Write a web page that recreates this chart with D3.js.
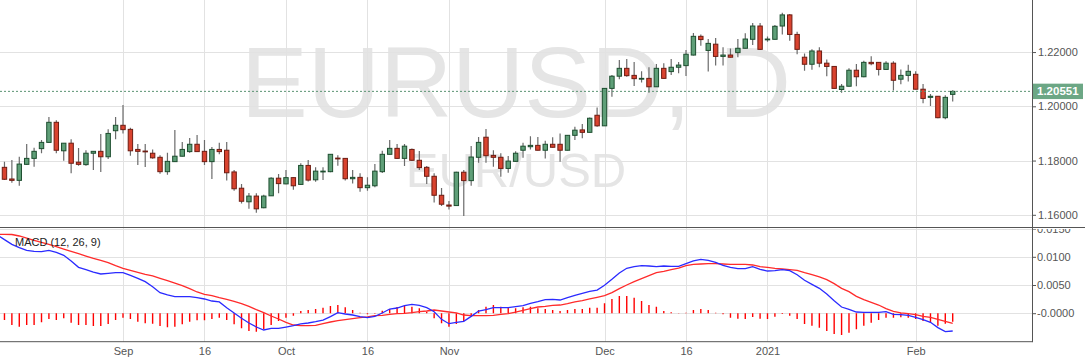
<!DOCTYPE html>
<html>
<head>
<meta charset="utf-8">
<script src="https://cdn.jsdelivr.net/npm/d3@7"></script>
<style>
  body { margin: 0; background: #fff; }
  svg { display: block; font-family: Arial, "Liberation Sans", sans-serif; }
</style>
</head>
<body>
<svg id="chart" width="1085" height="363"></svg>
<script>
// Daily EUR/USD bars, 7 Aug 2020 .. 8 Feb 2021 (first bar sits just off the left edge)
const open = [1.1875,1.1775,1.1732,1.1727,1.1786,1.1808,1.1844,1.1867,1.1941,1.1836,1.1864,1.1794,1.1785,1.1827,1.1834,1.1814,1.1910,1.1930,1.1915,1.1841,1.1835,
  1.1827,1.1812,1.1759,1.1796,1.1816,1.1833,1.1860,1.1834,1.1796,1.1841,1.1838,1.1758,1.1698,1.1648,1.1669,1.1626,1.1670,1.1735,1.1714,1.1737,
  1.1712,1.1782,1.1729,1.1759,1.1759,1.1809,1.1808,1.1733,1.1738,1.1700,1.1707,1.1759,1.1823,1.1845,1.1808,1.1841,1.1801,1.1775,1.1742,1.1672,
  1.1636,1.1634,1.1757,1.1726,1.1812,1.1886,1.1819,1.1812,1.1771,1.1797,1.1838,1.1851,1.1856,1.1838,1.1860,1.1860,1.1838,1.1893,1.1913,1.1904,
  1.1967,1.1928,1.2066,1.2111,1.2140,1.2114,1.2101,1.2103,1.2072,1.2140,1.2128,1.2144,1.2150,1.2189,1.2258,1.2206,1.2229,1.2184,1.2189,1.2198,
  1.2214,1.2247,1.2296,1.2246,1.2247,1.2296,1.2337,1.2265,1.2181,1.2155,1.2204,1.2159,1.2147,1.2062,1.2074,1.2133,1.2109,1.2162,1.2162,1.2136,
  1.2159,1.2100,1.2114,1.2118,1.2063,1.2033,1.2037,1.1958,1.2044];
const high = [1.1886,1.1796,1.1802,1.1814,1.1861,1.1847,1.1876,1.1961,1.1949,1.1865,1.1879,1.1846,1.1838,1.1835,1.1898,1.1915,1.1961,1.2005,1.1921,1.1861,1.1861,
  1.1841,1.1820,1.1829,1.1913,1.1868,1.1883,1.1894,1.1876,1.1850,1.1866,1.1868,1.1765,1.1714,1.1680,1.1679,1.1674,1.1738,1.1750,1.1765,1.1738,
  1.1790,1.1802,1.1775,1.1775,1.1824,1.1820,1.1809,1.1765,1.1753,1.1738,1.1787,1.1836,1.1876,1.1861,1.1861,1.1844,1.1835,1.1780,1.1753,1.1699,
  1.1651,1.1759,1.1765,1.1854,1.1887,1.1916,1.1838,1.1827,1.1817,1.1834,1.1866,1.1890,1.1887,1.1873,1.1886,1.1900,1.1894,1.1925,1.1935,1.1959,
  1.1996,1.2067,1.2115,1.2171,1.2174,1.2163,1.2129,1.2144,1.2156,1.2159,1.2174,1.2163,1.2208,1.2270,1.2265,1.2248,1.2252,1.2218,1.2213,1.2248,
  1.2269,1.2307,1.2307,1.2257,1.2300,1.2345,1.2340,1.2275,1.2195,1.2210,1.2218,1.2173,1.2149,1.2082,1.2140,1.2156,1.2168,1.2185,1.2163,1.2166,
  1.2166,1.2136,1.2153,1.2129,1.2082,1.2045,1.2038,1.2041,1.2059];
const low = [1.1756,1.1728,1.1718,1.1707,1.1784,1.1777,1.1827,1.1866,1.1827,1.1799,1.1753,1.1781,1.1781,1.1765,1.1758,1.1806,1.1879,1.1900,1.1818,1.1784,1.1776,
  1.1807,1.1751,1.1748,1.1795,1.1815,1.1829,1.1832,1.1784,1.1732,1.1823,1.1726,1.1689,1.1642,1.1622,1.1608,1.1624,1.1669,1.1679,1.1713,1.1692,
  1.1711,1.1723,1.1722,1.1728,1.1757,1.1781,1.1726,1.1715,1.1685,1.1689,1.1702,1.1754,1.1822,1.1807,1.1780,1.1798,1.1765,1.1714,1.1645,1.1632,
  1.1620,1.1633,1.1596,1.1707,1.1792,1.1792,1.1777,1.1740,1.1755,1.1796,1.1810,1.1841,1.1837,1.1808,1.1848,1.1796,1.1837,1.1876,1.1882,1.1903,
  1.1925,1.1927,1.2035,1.2100,1.2109,1.2075,1.2088,1.2050,1.2071,1.2102,1.2115,1.2122,1.2112,1.2187,1.2223,1.2128,1.2150,1.2150,1.2180,1.2181,
  1.2213,1.2226,1.2208,1.2238,1.2246,1.2265,1.2242,1.2192,1.2131,1.2135,1.2144,1.2111,1.2065,1.2050,1.2073,1.2074,1.2107,1.2151,1.2114,1.2135,
  1.2058,1.2081,1.2091,1.2062,1.2011,1.2001,1.1956,1.1952,1.2018];
const close = [1.1785,1.1731,1.1727,1.1787,1.1808,1.1834,1.1867,1.1941,1.1838,1.1864,1.1790,1.1786,1.1827,1.1834,1.1814,1.1900,1.1930,1.1914,1.1836,1.1834,1.1833,
  1.1810,1.1759,1.1797,1.1816,1.1841,1.1860,1.1833,1.1796,1.1841,1.1833,1.1755,1.1696,1.1650,1.1669,1.1622,1.1669,1.1735,1.1715,1.1737,1.1707,
  1.1782,1.1728,1.1761,1.1761,1.1823,1.1807,1.1733,1.1738,1.1700,1.1709,1.1761,1.1823,1.1845,1.1808,1.1853,1.1801,1.1774,1.1742,1.1672,1.1639,
  1.1632,1.1757,1.1726,1.1813,1.1867,1.1818,1.1812,1.1771,1.1798,1.1827,1.1853,1.1856,1.1838,1.1860,1.1849,1.1838,1.1893,1.1912,1.1904,1.1956,
  1.1928,1.2066,1.2111,1.2140,1.2113,1.2102,1.2103,1.2072,1.2140,1.2103,1.2144,1.2152,1.2192,1.2258,1.2246,1.2232,1.2184,1.2189,1.2181,1.2214,
  1.2248,1.2296,1.2210,1.2248,1.2295,1.2337,1.2265,1.2210,1.2155,1.2204,1.2159,1.2147,1.2066,1.2074,1.2133,1.2109,1.2162,1.2157,1.2136,1.2159,
  1.2096,1.2114,1.2129,1.2063,1.2029,1.2037,1.1958,1.2033,1.20551];

// MACD (12, 26, 9): main line, signal line and histogram, one value per bar
const macd = [0.01392,0.01304,0.01221,0.01162,0.01115,0.01097,0.01091,0.01115,0.01079,0.01026,0.00926,0.00813,0.00772,0.00730,0.00695,0.00707,0.00719,0.00719,0.00671,0.00618,0.00559,
  0.00470,0.00364,0.00323,0.00293,0.00293,0.00293,0.00275,0.00252,0.00216,0.00199,0.00098,0.00004,-0.00091,-0.00174,-0.00245,-0.00298,-0.00268,-0.00268,-0.00245,-0.00221,
  -0.00191,-0.00174,-0.00150,-0.00121,-0.00061,0.00009,-0.00014,-0.00032,-0.00061,-0.00079,-0.00056,0.00004,0.00074,0.00092,0.00134,0.00157,0.00139,0.00098,0.00027,-0.00109,
  -0.00186,-0.00162,-0.00144,-0.00056,0.00039,0.00063,0.00098,0.00098,0.00098,0.00116,0.00134,0.00175,0.00204,0.00240,0.00246,0.00234,0.00275,0.00317,0.00352,0.00388,
  0.00411,0.00494,0.00600,0.00713,0.00796,0.00825,0.00843,0.00837,0.00825,0.00837,0.00831,0.00831,0.00878,0.00926,0.00955,0.00937,0.00902,0.00849,0.00813,0.00790,
  0.00790,0.00825,0.00778,0.00748,0.00754,0.00772,0.00754,0.00683,0.00583,0.00512,0.00441,0.00340,0.00222,0.00110,0.00069,0.00021,0.00015,0.00015,0.00015,0.00027,
  -0.00020,-0.00026,-0.00038,-0.00073,-0.00115,-0.00162,-0.00256,-0.00327,-0.00316];
const signal = [0.01398,0.01398,0.01395,0.01369,0.01333,0.01292,0.01256,0.01221,0.01180,0.01138,0.01097,0.01056,0.01014,0.00973,0.00937,0.00896,0.00843,0.00796,0.00760,0.00725,0.00689,
  0.00660,0.00618,0.00577,0.00535,0.00488,0.00435,0.00376,0.00335,0.00311,0.00275,0.00246,0.00210,0.00169,0.00122,0.00063,0.00009,-0.00050,-0.00103,-0.00162,-0.00209,
  -0.00221,-0.00221,-0.00215,-0.00186,-0.00156,-0.00132,-0.00115,-0.00097,-0.00079,-0.00067,-0.00044,-0.00038,-0.00020,-0.00008,-0.00002,0.00009,0.00027,0.00039,0.00057,0.00039,
  0.00021,0.00004,-0.00032,-0.00044,-0.00044,-0.00044,-0.00038,-0.00020,-0.00008,0.00021,0.00051,0.00080,0.00110,0.00122,0.00139,0.00145,0.00169,0.00199,0.00222,0.00252,
  0.00281,0.00311,0.00364,0.00435,0.00500,0.00559,0.00612,0.00665,0.00719,0.00742,0.00772,0.00801,0.00843,0.00866,0.00872,0.00878,0.00878,0.00872,0.00866,0.00866,
  0.00866,0.00855,0.00825,0.00813,0.00796,0.00784,0.00772,0.00760,0.00719,0.00683,0.00642,0.00595,0.00524,0.00441,0.00382,0.00299,0.00240,0.00193,0.00145,0.00080,
  0.00033,0.00004,-0.00008,-0.00026,-0.00056,-0.00073,-0.00109,-0.00144,-0.00180];
const hist = [-0.00100,-0.00121,-0.00209,-0.00239,-0.00209,-0.00209,-0.00162,-0.00103,-0.00121,-0.00091,-0.00168,-0.00209,-0.00209,-0.00227,-0.00227,-0.00191,-0.00121,-0.00079,-0.00103,-0.00150,-0.00180,
  -0.00186,-0.00227,-0.00251,-0.00239,-0.00197,-0.00150,-0.00126,-0.00126,-0.00103,-0.00079,-0.00121,-0.00197,-0.00268,-0.00316,-0.00327,-0.00286,-0.00209,-0.00138,-0.00079,-0.00044,
  0.00039,0.00057,0.00074,0.00098,0.00128,0.00145,0.00104,0.00057,0.00009,-0.00020,-0.00008,0.00045,0.00074,0.00110,0.00128,0.00116,0.00086,0.00027,-0.00091,-0.00180,
  -0.00239,-0.00191,-0.00138,-0.00061,0.00057,0.00116,0.00145,0.00116,0.00098,0.00086,0.00104,0.00116,0.00086,0.00074,0.00057,0.00039,0.00057,0.00074,0.00074,0.00098,
  0.00098,0.00175,0.00252,0.00305,0.00305,0.00275,0.00216,0.00145,0.00116,0.00039,0.00015,0.00004,0.00009,0.00057,0.00074,0.00057,0.00009,-0.00020,-0.00079,-0.00097,
  -0.00103,-0.00067,-0.00097,-0.00103,-0.00061,-0.00014,-0.00044,-0.00103,-0.00191,-0.00221,-0.00256,-0.00316,-0.00369,-0.00387,-0.00345,-0.00286,-0.00221,-0.00168,-0.00121,-0.00079,
  -0.00079,-0.00073,-0.00079,-0.00103,-0.00138,-0.00168,-0.00221,-0.00186,-0.00150];

// x axis labels sit on the first bar of each period
const tickBars = [17, 28, 39, 50, 61, 82, 93, 104, 124];
const tickLabels = ["Sep", "16", "Oct", "16", "Nov", "Dec", "16", "2021", "Feb"];
const priceTicks = [1.16, 1.18, 1.20, 1.22];
const macdTicks = [0, 0.005, 0.010, 0.015];
const macdTickLabels = ["-0.0000", "0.0050", "0.0100", "0.0150"];

const axisX = 1032;
const priceBottom = 227.5, macdTop = 227.5, macdBottom = 341.7;

const svg = d3.select("#chart");

const x = d3.scaleLinear().domain([0, 129]).range([-2.94, 952.7]);
const y = d3.scaleLinear().domain([1.16, 1.22]).range([214.8, 52.06]);
const ym = d3.scaleLinear().domain([0, 0.01]).range([313.2, 256.8]);

const defs = svg.append("defs");
defs.append("clipPath").attr("id", "clipPrice")
  .append("rect").attr("x", 0).attr("y", 0).attr("width", axisX).attr("height", priceBottom);
defs.append("clipPath").attr("id", "clipMacd")
  .append("rect").attr("x", 0).attr("y", macdTop).attr("width", axisX).attr("height", macdBottom - macdTop);
// used inside the translated axis group, so local coordinates
defs.append("clipPath").attr("id", "clipMacdAxis")
  .append("rect").attr("x", 0).attr("y", macdTop + 1.5).attr("width", 60).attr("height", 130);

// watermark
svg.append("text")
  .attr("x", axisX / 2).attr("y", 117)
  .attr("text-anchor", "middle")
  .style("font-size", "100px").style("fill", "#e5e5e5")
  .text("EURUSD, D");
svg.append("text")
  .attr("x", axisX / 2).attr("y", 187)
  .attr("text-anchor", "middle")
  .style("font-size", "49px").style("fill", "#e5e5e5")
  .text("EUR/USD");

// grid
const grid = svg.append("g").attr("stroke", "#e2e2e2").attr("stroke-width", 1);
grid.selectAll(".vp").data(tickBars).enter().append("line")
  .attr("x1", d => Math.round(x(d)) + 0.5).attr("x2", d => Math.round(x(d)) + 0.5)
  .attr("y1", 0).attr("y2", priceBottom);
grid.selectAll(".vm").data(tickBars).enter().append("line")
  .attr("x1", d => Math.round(x(d)) + 0.5).attr("x2", d => Math.round(x(d)) + 0.5)
  .attr("y1", macdTop).attr("y2", macdBottom);
grid.selectAll(".hp").data(priceTicks).enter().append("line")
  .attr("x1", 0).attr("x2", axisX)
  .attr("y1", d => Math.round(y(d)) + 0.5).attr("y2", d => Math.round(y(d)) + 0.5);
grid.selectAll(".hm").data(macdTicks).enter().append("line")
  .attr("x1", 0).attr("x2", axisX)
  .attr("y1", d => Math.round(ym(d)) + 0.5).attr("y2", d => Math.round(ym(d)) + 0.5);

// candles
const bars = d3.range(open.length).map(j => ({ j, o: open[j], h: high[j], l: low[j], c: close[j] }));
const candles = svg.append("g").attr("clip-path", "url(#clipPrice)");

candles.selectAll(".wick").data(bars).enter().append("line")
  .attr("x1", d => x(d.j)).attr("x2", d => x(d.j))
  .attr("y1", d => y(d.h)).attr("y2", d => y(d.l))
  .attr("stroke", "#6b6b6b").attr("stroke-width", 1.2);

candles.selectAll(".body").data(bars).enter().append("rect")
  .attr("x", d => x(d.j) - 2.2)
  .attr("width", 4.4)
  .attr("y", d => y(Math.max(d.o, d.c)))
  .attr("height", d => Math.max(0.8, Math.abs(y(d.o) - y(d.c))))
  .attr("fill", d => d.c >= d.o ? "#5f9f78" : "#d9432f")
  .attr("stroke", d => d.c >= d.o ? "#1d4e2f" : "#6e1c12")
  .attr("stroke-width", 1);

// last price line and label
const last = close[close.length - 1];
svg.append("line")
  .attr("x1", 0).attr("x2", axisX)
  .attr("y1", y(last)).attr("y2", y(last))
  .attr("stroke", "#5a9272").attr("stroke-width", 1)
  .attr("stroke-dasharray", "2,2");

// price axis
const pAxis = svg.append("g")
  .attr("transform", `translate(${axisX},0)`)
  .call(d3.axisRight(y).tickValues(priceTicks).tickFormat(d3.format(".5f")).tickSize(4).tickPadding(2));
pAxis.select(".domain").remove();
pAxis.selectAll("line").attr("stroke", "#555");
pAxis.selectAll("text").style("font-size", "11px").style("fill", "#555").style("font-family", "Arial, 'Liberation Sans', sans-serif");

svg.append("rect")
  .attr("x", axisX).attr("y", y(last) - 7.7)
  .attr("width", 51).attr("height", 15.4)
  .attr("fill", "#6ca785");
svg.append("text")
  .attr("x", axisX + 5).attr("y", y(last) + 4)
  .style("font-size", "11.5px").style("font-weight", "bold").style("fill", "#fff")
  .text(d3.format(".5f")(last));

// MACD panel
const mg = svg.append("g").attr("clip-path", "url(#clipMacd)");
mg.selectAll(".hist").data(hist).enter().append("line")
  .attr("x1", (d, j) => x(j)).attr("x2", (d, j) => x(j))
  .attr("y1", ym(0)).attr("y2", d => ym(d))
  .attr("stroke", "#ff0000").attr("stroke-width", 1.4);

mg.append("path")
  .datum(signal)
  .attr("fill", "none").attr("stroke", "#ff2b2b").attr("stroke-width", 1.3)
  .attr("d", d3.line().x((d, j) => x(j)).y(d => ym(d)));
mg.append("path")
  .datum(macd)
  .attr("fill", "none").attr("stroke", "#2b2bff").attr("stroke-width", 1.3)
  .attr("d", d3.line().x((d, j) => x(j)).y(d => ym(d)));

svg.append("text")
  .attr("x", 15).attr("y", 246)
  .style("font-size", "11px").style("fill", "#222")
  .text("MACD (12, 26, 9)");

const mAxis = svg.append("g")
  .attr("transform", `translate(${axisX},0)`)
  .attr("clip-path", "url(#clipMacdAxis)")
  .call(d3.axisRight(ym).tickValues(macdTicks).tickFormat((d, k) => macdTickLabels[k]).tickSize(4).tickPadding(1));
mAxis.select(".domain").remove();
mAxis.selectAll("line").attr("stroke", "#555");
mAxis.selectAll("text").style("font-size", "11px").style("fill", "#555").style("font-family", "Arial, 'Liberation Sans', sans-serif");

// time axis
const xAxis = svg.append("g")
  .attr("transform", `translate(0,${macdBottom})`)
  .call(d3.axisBottom(x).tickValues(tickBars).tickFormat((d, k) => tickLabels[k]).tickSize(0).tickPadding(5.5));
xAxis.select(".domain").remove();
xAxis.selectAll("text").style("font-size", "11px").style("fill", "#555").style("font-family", "Arial, 'Liberation Sans', sans-serif");

// frame lines
const frame = svg.append("g").attr("stroke", "#555").attr("stroke-width", 1);
frame.append("line").attr("x1", axisX + 0.5).attr("x2", axisX + 0.5).attr("y1", 0).attr("y2", macdBottom + 0.5);
frame.append("line").attr("x1", 0).attr("x2", 1085).attr("y1", priceBottom).attr("y2", priceBottom);
frame.append("line").attr("x1", 0).attr("x2", axisX + 0.5).attr("y1", macdBottom).attr("y2", macdBottom);
</script>
</body>
</html>
